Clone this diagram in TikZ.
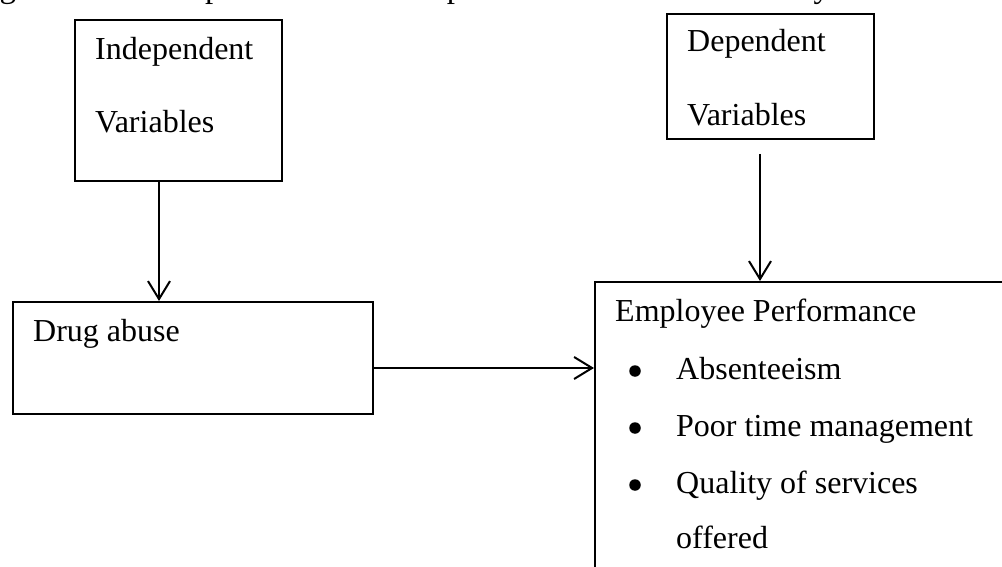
\documentclass[tikz,border=0pt]{standalone}
\usepackage{fontspec}
\setmainfont{Liberation Serif}
\usetikzlibrary{arrows.meta}
\begin{document}
\begin{tikzpicture}[x=1pt,y=-1pt,
  box/.style={draw=black,line width=1.9pt,inner sep=0pt,anchor=north west},
  txt/.style={inner sep=0pt,anchor=base west,font=\fontsize{32}{38}\selectfont},
  bul/.style={circle,fill=black,inner sep=0pt,minimum size=11.5pt},
  arr/.style={line width=2pt,-{Straight Barb[length=18pt,width=22pt,line width=2pt]}}]
\useasboundingbox (0,0) rectangle (1002,567);
% cut-off caption line
\node[inner sep=0pt,anchor=base west,font=\fontsize{33}{40}\selectfont] (cap) at (-28,-2) {Figure 2.1 below presents the conceptual framework of the study.};
% boxes
\node[box,minimum width=207pt,minimum height=161pt] (ind) at (74,19) {};
\node[box,minimum width=207pt,minimum height=125pt] (dep) at (666,13) {};
\node[box,minimum width=360pt,minimum height=112pt] (drug) at (12,301) {};
\node[box,minimum width=480pt,minimum height=360pt] (emp) at (594,281) {};
% texts
\node[txt] (t1) at (95,60) {Independent};
\node[txt] (t2) at (95,133) {Variables};
\node[txt] (t3) at (687,52) {Dependent};
\node[txt] (t4) at (687,126) {Variables};
\node[txt] (t5) at (33,341) {Drug abuse};
\node[txt] (t6) at (615,321) {Employee Performance};
\node[bul] (b1) at (635,371) {};
\node[txt] (t7) at (676,379) {Absenteeism};
\node[bul] (b2) at (635,428) {};
\node[txt] (t8) at (676,436) {Poor time management};
\node[bul] (b3) at (635,485) {};
\node[txt] (t9) at (676,493) {Quality of services};
\node[txt] (t10) at (676,548) {offered};
% connectors
\coordinate (a1) at (159,0);
\coordinate (a2) at (760,0);
\coordinate (a3) at (0,368);
\draw[arr] (ind.south -| a1) -- (drug.north -| a1);
\draw[arr] ([yshift=-14pt]dep.south -| a2) -- (emp.north -| a2);
\draw[arr] (drug.east |- a3) -- (emp.west |- a3);
\end{tikzpicture}
\end{document}
